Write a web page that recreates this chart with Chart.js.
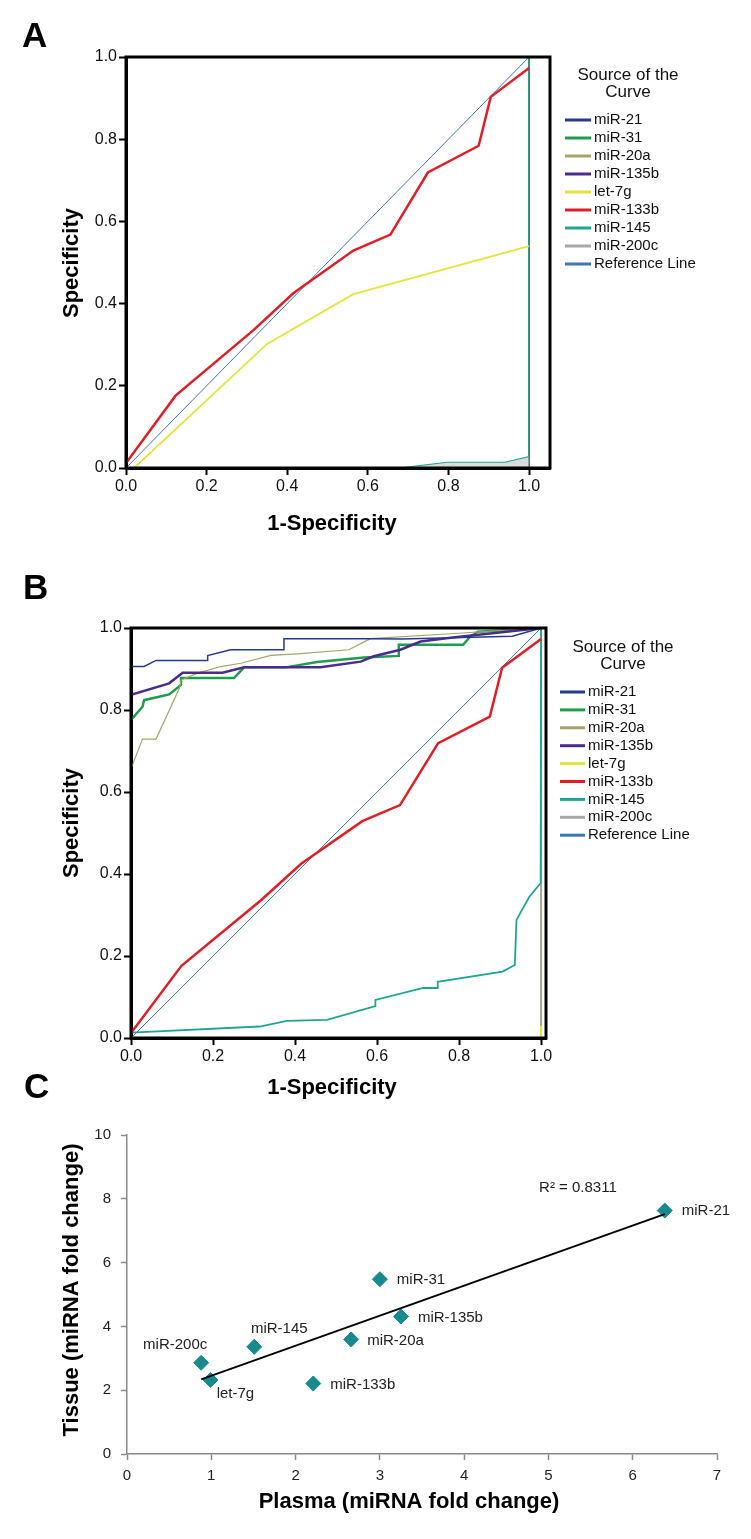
<!DOCTYPE html>
<html>
<head>
<meta charset="utf-8">
<script src="https://cdn.jsdelivr.net/npm/chart.js@4.4.0/dist/chart.umd.min.js"></script>
<style>
  html, body { margin: 0; padding: 0; background: #fff; }
  #page { position: relative; width: 751px; height: 1539px; }
  #page canvas { position: absolute; left: 0; top: 0; }
</style>
</head>
<body>
<div id="page">
  <canvas id="rocA" width="751" height="1539"></canvas>
  <canvas id="rocB" width="751" height="1539"></canvas>
  <canvas id="scatterC" width="751" height="1539"></canvas>
</div>
<script>
// ---- data ----
const curveNames = ["miR-21", "miR-31", "miR-20a", "miR-135b", "let-7g", "miR-133b", "miR-145", "miR-200c", "Reference Line"];
const curveColors = ["#27388f", "#1c9e4b", "#a5a46a", "#4b2c8c", "#e4e43c", "#e01e26", "#1fa594", "#a9a9a9", "#3b77b5"];
const rocTicks = [0, 0.2, 0.4, 0.6, 0.8, 1.0];

const refFpr = [0, 1];
const refSens = [0, 1];

// miR-133b is the same curve in A and B
const mir133bFpr = [0, 0.123, 0.317, 0.415, 0.564, 0.656, 0.749, 0.875, 0.905, 1.0];
const mir133bSens = [0.012, 0.176, 0.336, 0.425, 0.529, 0.568, 0.719, 0.784, 0.903, 0.973];

// panel A
const aEdgeFpr = [0, 1, 1];   // curves lying on the bottom / right edges
const aEdgeSens = [0, 0, 1];
const aLet7gFpr = [0, 0.02, 0.35, 0.564, 1.0];
const aLet7gSens = [0, 0, 0.302, 0.423, 0.54];
const aMir145Fpr = [0, 0.678, 0.797, 0.94, 1.0, 1.0];
const aMir145Sens = [0, 0, 0.014, 0.014, 0.028, 1.0];

// panel B
const bMir21Fpr = [0, 0.032, 0.061, 0.187, 0.187, 0.243, 0.373, 0.373, 0.584, 0.66, 0.93, 1.0];
const bMir21Sens = [0.906, 0.906, 0.921, 0.921, 0.933, 0.947, 0.947, 0.974, 0.974, 0.973, 0.98, 1.0];
const bMir31Fpr = [0, 0.028, 0.032, 0.093, 0.122, 0.122, 0.251, 0.276, 0.377, 0.454, 0.568, 0.653, 0.653, 0.81, 0.827, 0.846, 1.0];
const bMir31Sens = [0.776, 0.808, 0.824, 0.838, 0.861, 0.878, 0.878, 0.904, 0.904, 0.917, 0.928, 0.932, 0.959, 0.959, 0.979, 0.991, 1.0];
const bMir20aFpr = [0, 0.028, 0.061, 0.118, 0.122, 0.162, 0.219, 0.268, 0.341, 0.406, 0.531, 0.584, 0.779, 1.0];
const bMir20aSens = [0.657, 0.729, 0.729, 0.853, 0.873, 0.89, 0.906, 0.914, 0.933, 0.937, 0.947, 0.974, 0.986, 1.0];
const bMir135bFpr = [0, 0.093, 0.126, 0.223, 0.276, 0.462, 0.56, 0.592, 0.657, 0.706, 0.779, 1.0];
const bMir135bSens = [0.837, 0.865, 0.891, 0.891, 0.904, 0.904, 0.918, 0.931, 0.947, 0.967, 0.976, 1.0];
const bLet7gFpr = [0, 1, 1];
const bLet7gSens = [0, 0, 0.03];
const bMir145Fpr = [0, 0.314, 0.38, 0.478, 0.596, 0.596, 0.713, 0.748, 0.748, 0.906, 0.936, 0.94, 0.971, 0.999, 1.0];
const bMir145Sens = [0.013, 0.028, 0.042, 0.044, 0.078, 0.093, 0.122, 0.122, 0.137, 0.162, 0.178, 0.288, 0.344, 0.378, 1.0];
const bMir200cFpr = [0, 1, 1];
const bMir200cSens = [0, 0, 1];

// panel C
const mirLabels = ["miR-21", "miR-31", "miR-135b", "miR-20a", "miR-133b", "miR-145", "miR-200c", "let-7g"];
const plasmaFold = [6.38, 3.0, 3.25, 2.66, 2.21, 1.51, 0.88, 0.99];
const tissueFold = [7.63, 5.48, 4.31, 3.59, 2.21, 3.36, 2.86, 2.32];
const trendPlasma = [0.88, 6.38];
const trendTissue = [2.34, 7.52];
const cXTicks = [0, 1, 2, 3, 4, 5, 6, 7];
const cYTicks = [0, 2, 4, 6, 8, 10];
const r2Text = "R² = 0.8311";
const r2At = [5.35, 8.33];

// ---- helpers ----
const SANS = '"Liberation Sans", Arial, sans-serif';
const PAGE_H = 1539;

function pts(xs, ys) {
  return xs.map((x, i) => ({ x: x, y: ys[i] }));
}

function curve(idx, xs, ys, width, extra) {
  return Object.assign({
    label: curveNames[idx],
    data: pts(xs, ys),
    borderColor: curveColors[idx],
    backgroundColor: curveColors[idx],
    borderWidth: width,
    showLine: true,
    pointRadius: 0,
    fill: false,
    tension: 0,
  }, extra || {});
}

// fixed plot box in page pixels
function rocOptions(box) {
  return {
    responsive: false,
    animation: false,
    events: [],
    layout: { padding: { left: 0, top: box.top, right: 751 - box.right, bottom: PAGE_H - box.bottom - 40 } },
    plugins: { legend: { display: false }, tooltip: { enabled: false } },
    scales: {
      x: {
        type: "linear", min: 0, max: box.xMax,
        afterFit: (s) => { s.height = 40; },
        afterBuildTicks: (s) => { s.ticks = rocTicks.map((v) => ({ value: v })); },
        grid: { display: true, drawOnChartArea: false, drawTicks: true, tickLength: 7, tickColor: "#000", tickWidth: 2 },
        border: { display: true, color: "#000", width: 3 },
        ticks: { autoSkip: false, maxRotation: 0, padding: 2, color: "#111", font: { family: SANS, size: 16 }, callback: (v) => Number(v).toFixed(1) },
      },
      y: {
        type: "linear", min: 0, max: 1,
        afterFit: (s) => { s.width = box.left; },
        afterBuildTicks: (s) => { s.ticks = rocTicks.map((v) => ({ value: v })); },
        grid: { display: true, drawOnChartArea: false, drawTicks: true, tickLength: 7, tickColor: "#000", tickWidth: 2 },
        border: { display: true, color: "#000", width: 3 },
        ticks: { autoSkip: false, padding: 2, color: "#111", font: { family: SANS, size: 16 }, callback: (v) => Number(v).toFixed(1) },
      },
    },
  };
}

const frameBox = {
  id: "frameBox",
  afterDatasetsDraw(chart) {
    const { ctx, chartArea: a } = chart;
    ctx.save();
    ctx.strokeStyle = "#000";
    ctx.lineWidth = 3;
    ctx.strokeRect(a.left, a.top, a.right - a.left, a.bottom - a.top);
    ctx.restore();
  },
};

// free text: panel letters and axis titles
function textPlugin(items) {
  return {
    id: "texts",
    afterDraw(chart) {
      const ctx = chart.ctx;
      items.forEach((t) => {
        ctx.save();
        ctx.font = t.font;
        ctx.fillStyle = t.color || "#000";
        ctx.textAlign = t.align || "center";
        ctx.textBaseline = t.baseline || "middle";
        ctx.translate(t.x, t.y);
        if (t.rotate) ctx.rotate(t.rotate);
        ctx.fillText(t.text, 0, 0);
        ctx.restore();
      });
    },
  };
}

// SPSS style legend on the right
function rocLegend(lg) {
  return {
    id: "rocLegend",
    afterDraw(chart) {
      const ctx = chart.ctx;
      ctx.save();
      ctx.fillStyle = "#111";
      ctx.textBaseline = "middle";
      ctx.textAlign = "center";
      ctx.font = "17px " + SANS;
      ctx.fillText("Source of the", lg.titleX, lg.titleY);
      ctx.fillText("Curve", lg.titleX, lg.titleY + 17);
      ctx.font = "15px " + SANS;
      ctx.textAlign = "left";
      curveNames.forEach((name, i) => {
        const y = lg.itemY + i * lg.step;
        ctx.strokeStyle = curveColors[i];
        ctx.lineWidth = 3;
        ctx.beginPath();
        ctx.moveTo(lg.lineX, y);
        ctx.lineTo(lg.lineX + lg.lineW, y);
        ctx.stroke();
        ctx.fillText(name, lg.textX, y);
      });
      ctx.restore();
    },
  };
}

// ---- panel A ----
new Chart(document.getElementById("rocA"), {
  type: "scatter",
  data: {
    datasets: [
      curve(5, mir133bFpr, mir133bSens, 2.5),
      curve(8, refFpr, refSens, 1),
      curve(4, aLet7gFpr, aLet7gSens, 1.8),
      curve(6, aMir145Fpr, aMir145Sens, 1.2, { fill: "origin", backgroundColor: "rgba(190,190,190,0.55)" }),
      curve(1, aEdgeFpr, aEdgeSens, 1),
      curve(0, aEdgeFpr, aEdgeSens, 1),
      curve(2, aEdgeFpr, aEdgeSens, 1),
      curve(3, aEdgeFpr, aEdgeSens, 1),
      curve(7, aEdgeFpr, aEdgeSens, 1),
    ],
  },
  options: rocOptions({ left: 126, right: 550, top: 57, bottom: 468, xMax: 1.052 }),
  plugins: [
    frameBox,
    rocLegend({ titleX: 628, titleY: 75, itemY: 120, step: 18, lineX: 565, lineW: 26, textX: 594 }),
    textPlugin([
      { text: "A", x: 22, y: 47, align: "left", baseline: "alphabetic", font: "bold 35px " + SANS },
      { text: "Specificity", x: 72, y: 263, rotate: -Math.PI / 2, font: "bold 22px " + SANS },
      { text: "1-Specificity", x: 332, y: 524, font: "bold 22px " + SANS },
    ]),
  ],
});

// ---- panel B ----
new Chart(document.getElementById("rocB"), {
  type: "scatter",
  data: {
    datasets: [
      curve(5, mir133bFpr, mir133bSens, 2.5),
      curve(8, refFpr, refSens, 1),
      curve(0, bMir21Fpr, bMir21Sens, 1.5),
      curve(3, bMir135bFpr, bMir135bSens, 2.5),
      curve(2, bMir20aFpr, bMir20aSens, 1.2),
      curve(1, bMir31Fpr, bMir31Sens, 2.5),
      curve(6, bMir145Fpr, bMir145Sens, 1.8),
      curve(4, bLet7gFpr, bLet7gSens, 2),
      curve(7, bMir200cFpr, bMir200cSens, 2, { borderColor: "#a7a882" }),
    ],
  },
  options: rocOptions({ left: 131, right: 546, top: 628, bottom: 1038, xMax: 1.012 }),
  plugins: [
    frameBox,
    rocLegend({ titleX: 623, titleY: 647, itemY: 692, step: 17.9, lineX: 560, lineW: 25, textX: 588 }),
    textPlugin([
      { text: "B", x: 23, y: 599, align: "left", baseline: "alphabetic", font: "bold 35px " + SANS },
      { text: "Specificity", x: 72, y: 823, rotate: -Math.PI / 2, font: "bold 22px " + SANS },
      { text: "1-Specificity", x: 332, y: 1088, font: "bold 22px " + SANS },
    ]),
  ],
});

// ---- panel C ----
const labelStyle = {
  dx: [17, 17, 17, 16, 17, 25, -26, 25],
  dy: [0, 1, 1, 1, 1, -18, -18, 14],
  align: ["left", "left", "left", "left", "left", "center", "center", "center"],
};

const pointLabels = {
  id: "pointLabels",
  afterDraw(chart) {
    const ctx = chart.ctx;
    const meta = chart.getDatasetMeta(1);
    ctx.save();
    ctx.font = "15px " + SANS;
    ctx.fillStyle = "#222";
    ctx.textBaseline = "middle";
    meta.data.forEach((pt, i) => {
      ctx.textAlign = labelStyle.align[i];
      ctx.fillText(mirLabels[i], pt.x + labelStyle.dx[i], pt.y + labelStyle.dy[i]);
    });
    ctx.textAlign = "center";
    ctx.fillText(r2Text, chart.scales.x.getPixelForValue(r2At[0]), chart.scales.y.getPixelForValue(r2At[1]));
    ctx.restore();
  },
};

const cAxisColor = "#8a8a8a";
new Chart(document.getElementById("scatterC"), {
  type: "scatter",
  data: {
    datasets: [
      {
        label: "trend",
        data: pts(trendPlasma, trendTissue),
        showLine: true,
        borderColor: "#000",
        borderWidth: 2,
        pointRadius: 0,
      },
      {
        label: "miRNA",
        data: pts(plasmaFold, tissueFold),
        pointStyle: "rectRot",
        pointRadius: 7.5,
        backgroundColor: "#168a8f",
        borderColor: "#168a8f",
        borderWidth: 1,
      },
    ],
  },
  options: {
    responsive: false,
    animation: false,
    events: [],
    layout: { padding: { left: 0, top: 1135, right: 751 - 717, bottom: PAGE_H - 1454 - 40 } },
    plugins: { legend: { display: false }, tooltip: { enabled: false } },
    scales: {
      x: {
        type: "linear", min: 0, max: 7,
        afterFit: (s) => { s.height = 40; },
        afterBuildTicks: (s) => { s.ticks = cXTicks.map((v) => ({ value: v })); },
        grid: { display: true, drawOnChartArea: false, drawTicks: true, tickLength: 6, tickColor: cAxisColor, tickWidth: 1.5 },
        border: { display: true, color: cAxisColor, width: 1.5 },
        ticks: { autoSkip: false, maxRotation: 0, padding: 7, color: "#222", font: { family: SANS, size: 15 } },
      },
      y: {
        type: "linear", min: 0, max: 10,
        afterFit: (s) => { s.width = 127; },
        afterBuildTicks: (s) => { s.ticks = cYTicks.map((v) => ({ value: v })); },
        grid: { display: true, drawOnChartArea: false, drawTicks: true, tickLength: 6, tickColor: cAxisColor, tickWidth: 1.5 },
        border: { display: true, color: cAxisColor, width: 1.5 },
        ticks: { autoSkip: false, padding: 10, color: "#222", font: { family: SANS, size: 15 } },
      },
    },
  },
  plugins: [
    pointLabels,
    textPlugin([
      { text: "C", x: 24, y: 1098, align: "left", baseline: "alphabetic", font: "bold 35px " + SANS },
      { text: "Tissue (miRNA fold change)", x: 72, y: 1290, rotate: -Math.PI / 2, font: "bold 22px " + SANS },
      { text: "Plasma (miRNA fold change)", x: 409, y: 1502, font: "bold 22px " + SANS },
    ]),
  ],
});
</script>
</body>
</html>
